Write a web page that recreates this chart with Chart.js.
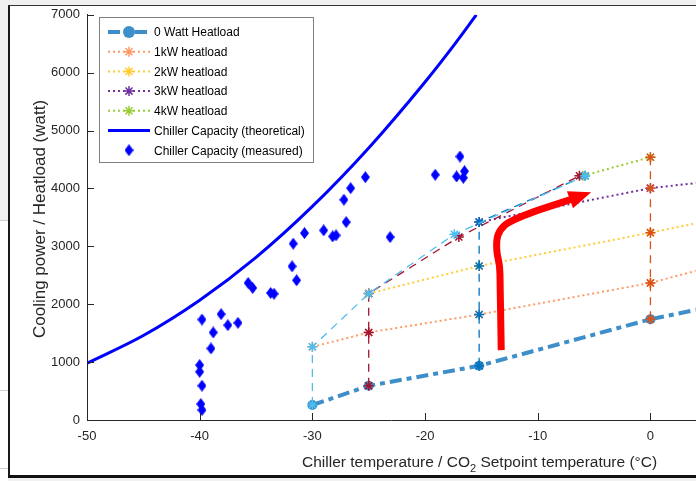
<!DOCTYPE html>
<html><head><meta charset="utf-8">
<script src="https://cdn.jsdelivr.net/npm/chart.js@4.4.1/dist/chart.umd.min.js"></script>
<style>
html,body{margin:0;padding:0;width:696px;height:481px;overflow:hidden;background:#f0f0f0;}
#leftwhite{position:absolute;left:0;top:220px;width:8px;height:261px;background:#fff;}
.gl{position:absolute;left:0;width:8px;height:1px;background:#cfcfcf;}
#frame{position:absolute;left:8px;top:5px;width:700px;height:469px;background:#fff;border-left:2px solid #1a1a1a;border-top:1px solid #333;border-bottom:3px solid #111;}
canvas{position:absolute;left:0;top:0;}
</style></head><body>
<div id="leftwhite"></div>
<div class="gl" style="top:220px"></div>
<div class="gl" style="top:390px"></div>
<div class="gl" style="top:468px"></div>
<div id="frame"></div>
<canvas id="c" width="702" height="481"></canvas>
<script>
// ---- tick labels ----
const xTicks = [-50, -40, -30, -20, -10, 0];
const yTicks = [0, 1000, 2000, 3000, 4000, 5000, 6000, 7000];

// ---- heatload series [temperature, power] ----
const heat0W  = [[-30, 259], [-25, 591], [-15.2, 936], [0, 1741], [5, 1941]];
const heat1kW = [[-30, 1264], [-25, 1512], [-15.2, 1822], [0, 2368], [5, 2626]];
const heat2kW = [[-25, 2184], [-15.2, 2661], [0, 3236], [5, 3436]];
const heat3kW = [[-15.2, 3419], [0, 4005], [5, 4115]];
const heat4kW = [[-6, 4218], [0, 4540]];

// ---- constant-setpoint connecting lines ----
const setA = [[-30, 259], [-30, 1264], [-25, 2184], [-17.4, 3207], [-5.8, 4218]];
const setB = [[-25, 591], [-25, 1512], [-25, 2184], [-17, 3161], [-6.3, 4218]];
const setC = [[-15.2, 936], [-15.2, 1822], [-15.2, 2661], [-15.2, 3419], [-5.8, 4218]];
const setD = [[0, 1741], [0, 2368], [0, 3236], [0, 4005], [0, 4540]];

// ---- chiller capacity ----
const theoT = [-50, -45, -40, -35, -30, -25, -20, -17.5, -15.45];
const theoP = [980, 1460, 2070, 2810, 3690, 4700, 5840, 6460, 7000];
const measT = [-39.8, -38.1, -38.8, -37.5, -36.6, -39.0, -40.0, -40.0, -39.8, -39.9, -39.8, -35.7, -35.3, -33.7, -33.4, -31.8, -31.4, -31.7, -30.7, -29.0, -28.2, -27.9, -27.0, -27.2, -26.6, -25.3, -23.1, -19.1, -16.9, -17.2, -16.5, -16.6];
const measP = [1736, 1828, 1512, 1638, 1678, 1236, 948, 833, 592, 276, 172, 2367, 2281, 2195, 2180, 2655, 2414, 3046, 3229, 3276, 3172, 3190, 3419, 3805, 4005, 4195, 3160, 4236, 4551, 4207, 4298, 4184];

// ---- red arrow annotation ----
const arrowPath = [[-13.24, 1207], [-13.33, 2241], [-13.39, 2643], [-13.63, 2931], [-13.54, 3189], [-12.94, 3362], [-11.91, 3477], [-10.44, 3591], [-8.67, 3707], [-6.89, 3822]];
const arrowTip = [-5.26, 3936];

const pts = a => a.map(p => ({x: p[0], y: p[1]}));
const pairs = (xs, ys) => xs.map((v, i) => ({x: v, y: ys[i]}));

// diamond marker image
const dia = document.createElement('canvas');
dia.width = 9; dia.height = 12;
(function(){const g = dia.getContext('2d'); g.fillStyle = '#0000ff'; g.beginPath(); g.moveTo(4.5,0); g.lineTo(9,6); g.lineTo(4.5,12); g.lineTo(0,6); g.closePath(); g.fill();})();

const F = '"Liberation Sans", Arial, Helvetica, sans-serif';
const TXT = '#262626';

function setDS(data, color) {
  return {data: pts(data), showLine: true, borderColor: color, backgroundColor: color, borderWidth: 1.3, borderDash: [8, 6],
    pointStyle: 'star', pointRadius: 5, pointBorderWidth: 1.5, pointBorderColor: color, order: 1};
}
function heatDS(label, data, color) {
  return {label, data: pts(data), showLine: true, borderColor: color, backgroundColor: color, borderWidth: 2, borderDash: [2, 3],
    pointStyle: 'star', pointRadius: 5, pointBorderWidth: 1.5, pointBorderColor: color, order: 3, legend: true};
}

const datasets = [
  {label: '0 Watt Heatload', data: pts(heat0W), showLine: true, borderColor: '#3d8ec9', backgroundColor: '#3d8ec9', borderWidth: 4,
   borderDash: [12, 5, 5, 5], pointStyle: 'circle', pointRadius: 5, pointBorderWidth: 0, order: 2, legend: true},
  heatDS('1kW heatload', heat1kW, '#ff9966'),
  heatDS('2kW heatload', heat2kW, '#ffcc33'),
  heatDS('3kW heatload', heat3kW, '#7030a0'),
  heatDS('4kW heatload', heat4kW, '#99cc33'),
  {label: 'Chiller Capacity (theoretical)', data: pairs(theoT, theoP), showLine: true, borderColor: '#0000ff', backgroundColor: '#0000ff',
   borderWidth: 3, pointRadius: 0, cubicInterpolationMode: 'monotone', order: 4, legend: true},
  {label: 'Chiller Capacity (measured)', data: pairs(measT, measP), showLine: false, pointStyle: dia, pointRadius: 5,
   backgroundColor: '#0000ff', borderColor: '#0000ff', order: 4, legend: true, noLine: true},
  setDS(setA, '#4dbeee'), setDS(setB, '#a2142f'), setDS(setC, '#0072bd'), setDS(setD, '#d95319'),
  {data: pts(arrowPath), showLine: true, borderColor: '#ff0000', borderWidth: 7, tension: 0.4, pointRadius: 0, order: 0, arrow: true}
];

function drawMarker(ctx, style, x, y, r, color, bw) {
  ctx.save();
  ctx.strokeStyle = color; ctx.fillStyle = color; ctx.lineWidth = bw; ctx.setLineDash([]);
  if (style === 'circle') { ctx.beginPath(); ctx.arc(x, y, r, 0, Math.PI * 2); ctx.fill(); }
  else if (style === 'star') {
    ctx.beginPath();
    for (let k = 0; k < 4; k++) { const a = k * Math.PI / 4; ctx.moveTo(x - r * Math.cos(a), y - r * Math.sin(a)); ctx.lineTo(x + r * Math.cos(a), y + r * Math.sin(a)); }
    ctx.stroke();
  } else if (style instanceof HTMLCanvasElement) { ctx.drawImage(style, x - style.width / 2, y - style.height / 2); }
  ctx.restore();
}

const decor = {
  id: 'decor',
  afterDatasetsDraw(chart) {
    const ctx = chart.ctx, xs = chart.scales.x, ys = chart.scales.y;
    const path = arrowPath;
    const bx = xs.getPixelForValue(path[path.length - 1][0]), by = ys.getPixelForValue(path[path.length - 1][1]);
    const tx = xs.getPixelForValue(arrowTip[0]), ty = ys.getPixelForValue(arrowTip[1]);
    let dx = tx - bx, dy = ty - by; const L = Math.hypot(dx, dy); dx /= L; dy /= L;
    const hw = 9, back = 3;
    ctx.save();
    ctx.fillStyle = '#ff0000';
    ctx.beginPath();
    ctx.moveTo(tx, ty);
    ctx.lineTo(bx - dx * back - dy * hw, by - dy * back + dx * hw);
    ctx.lineTo(bx - dx * back + dy * hw, by - dy * back - dx * hw);
    ctx.closePath(); ctx.fill();
    ctx.restore();
  },
  afterDraw(chart) {
    const ctx = chart.ctx, xs = chart.scales.x, ys = chart.scales.y, ca = chart.chartArea;
    ctx.save();
    ctx.strokeStyle = TXT; ctx.lineWidth = 1; ctx.setLineDash([]);
    ctx.beginPath();
    xTicks.forEach(v => { const px = Math.round(xs.getPixelForValue(v)) + 0.5; ctx.moveTo(px, ca.bottom); ctx.lineTo(px, ca.bottom - 7); });
    yTicks.forEach(v => { const py = Math.round(ys.getPixelForValue(v)) + 0.5; ctx.moveTo(ca.left, py); ctx.lineTo(ca.left + 7, py); });
    ctx.stroke();
    // axis titles
    ctx.fillStyle = TXT;
    ctx.font = '17px ' + F;
    ctx.textBaseline = 'middle';
    ctx.save(); ctx.translate(40, 219); ctx.rotate(-Math.PI / 2); ctx.textAlign = 'center';
    ctx.fillText('Cooling power / Heatload (watt)', 0, 0); ctx.restore();
    ctx.textAlign = 'left'; ctx.textBaseline = 'alphabetic';
    let x0 = 302; const yb = 467;
    const p1 = 'Chiller temperature / CO', p2 = '2', p3 = ' Setpoint temperature (°C)';
    ctx.font = '15.5px ' + F; ctx.fillText(p1, x0, yb); x0 += ctx.measureText(p1).width;
    ctx.font = '11px ' + F; ctx.fillText(p2, x0, yb + 5); x0 += ctx.measureText(p2).width;
    ctx.font = '15.5px ' + F; ctx.fillText(p3, x0, yb);
    // legend
    const lx = 99.5, ly = 17.5, lw = 214, lh = 145;
    ctx.fillStyle = '#fff'; ctx.fillRect(lx, ly, lw, lh);
    ctx.strokeStyle = '#7f7f7f'; ctx.lineWidth = 1; ctx.strokeRect(lx, ly, lw, lh);
    const items = chart.data.datasets.filter(d => d.legend);
    items.forEach((d, i) => {
      const y = 32 + i * 19.7;
      if (!d.noLine) {
        ctx.save(); ctx.strokeStyle = d.borderColor; ctx.lineWidth = d.borderWidth; ctx.setLineDash(d.borderDash || []);
        ctx.beginPath(); ctx.moveTo(108, y); ctx.lineTo(150, y); ctx.stroke(); ctx.restore();
      }
      if (d.pointRadius > 0) drawMarker(ctx, d.pointStyle, 129, y, d.pointStyle === 'circle' ? 6 : 5, d.backgroundColor, 1.5);
      ctx.fillStyle = '#000'; ctx.font = '12px ' + F; ctx.textBaseline = 'middle'; ctx.textAlign = 'left';
      ctx.fillText(d.label, 154, y + 1);
    });
    ctx.restore();
  }
};

new Chart(document.getElementById('c'), {
  type: 'scatter',
  data: {datasets},
  options: {
    responsive: false, animation: false, devicePixelRatio: 1,
    layout: {padding: {top: 14, right: 0, left: 0, bottom: 0}},
    plugins: {legend: {display: false}, tooltip: {enabled: false}},
    scales: {
      x: {type: 'linear', min: -50, max: 4,
        afterBuildTicks: s => { s.ticks = xTicks.map(v => ({value: v})); },
        afterFit: s => { s.height = 61; },
        grid: {display: false, drawTicks: false},
        border: {display: true, color: TXT, width: 1},
        ticks: {color: TXT, font: {family: F, size: 13}, padding: 9, maxRotation: 0, autoSkip: false,
          callback: v => String(v)}},
      y: {type: 'linear', min: 0, max: 7000,
        afterBuildTicks: s => { s.ticks = yTicks.map(v => ({value: v})); },
        afterFit: s => { s.width = 87; },
        grid: {display: false, drawTicks: false},
        border: {display: true, color: TXT, width: 1},
        ticks: {color: TXT, font: {family: F, size: 13}, padding: 7, autoSkip: false,
          callback: v => String(v)}}
    }
  },
  plugins: [decor]
});
</script>
</body></html>
